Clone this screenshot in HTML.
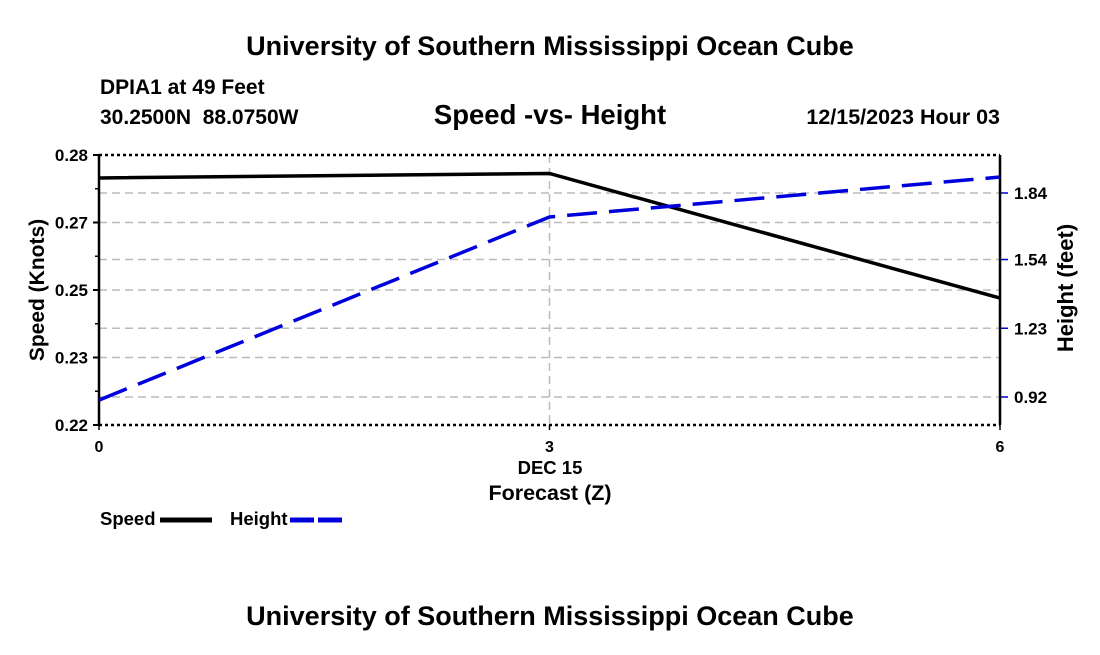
<!DOCTYPE html>
<html><head><meta charset="utf-8"><style>
body{margin:0;background:#fff;}
svg text{font-family:"Liberation Sans",Arial,sans-serif;font-weight:bold;fill:#000;}
</style></head><body>
<svg width="1100" height="650" xmlns="http://www.w3.org/2000/svg">
<text x="550" y="55" font-size="27" text-anchor="middle">University of Southern Mississippi Ocean Cube</text>
<text x="100" y="94" font-size="21">DPIA1 at 49 Feet</text>
<text x="100" y="124" font-size="21">30.2500N&#160;&#160;88.0750W</text>
<text x="550" y="124" font-size="27.5" text-anchor="middle">Speed -vs- Height</text>
<text x="1000" y="124" font-size="21.5" text-anchor="end">12/15/2023 Hour 03</text>
<g id="grid"></g>
<g id="axes"></g>
<g id="series"></g>
<text x="44" y="290" font-size="21" text-anchor="middle" transform="rotate(-90 44 290)">Speed (Knots)</text>
<text x="1073" y="288" font-size="22" text-anchor="middle" transform="rotate(-90 1073 288)">Height (feet)</text>
<text x="550" y="474" font-size="18.5" text-anchor="middle">DEC 15</text>
<text x="550" y="500" font-size="21.5" text-anchor="middle">Forecast (Z)</text>
<g>
<text x="100" y="525" font-size="18.5">Speed</text>
<line x1="160" y1="520" x2="212" y2="520" stroke="#000" stroke-width="5"/>
<text x="230" y="525" font-size="18.5">Height</text>
<line x1="290" y1="520" x2="342" y2="520" stroke="#0000dd" stroke-width="5" stroke-dasharray="24,4"/>
</g>
<text x="550" y="625" font-size="27" text-anchor="middle">University of Southern Mississippi Ocean Cube</text>
</svg>
<script>
const hours=[0,3,6];
const xTickLabels=["0","3","6"];
const speed=[0.2749,0.2759,0.2482];
const height=[0.906,1.732,1.912];
const leftTicks=[0.28,0.265,0.25,0.235,0.22];
const leftTickLabels=["0.28","0.27","0.25","0.23","0.22"];
const rightTicks=[1.84,1.54,1.23,0.92];
const rightTickLabels=["1.84","1.54","1.23","0.92"];
const L=99,R=1000,T=155,B=425;
const xs=h=>L+(h-0)/(6-0)*(R-L);
const ys=v=>B-(v-0.22)/(0.28-0.22)*(B-T);
const yh=v=>397-(v-0.92)/(1.84-0.92)*(397-193);
const NS="http://www.w3.org/2000/svg";
function mk(parent,tag,attrs){const e=document.createElementNS(NS,tag);for(const k in attrs)e.setAttribute(k,attrs[k]);parent.appendChild(e);return e;}
const grid=document.getElementById('grid'),axes=document.getElementById('axes'),series=document.getElementById('series');
leftTicks.forEach((v,i)=>{const y=ys(v);
 if(i>0&&i<leftTicks.length-1){const g=mk(grid,'line',{x1:L,x2:R,y1:y,y2:y,stroke:'#bbb','stroke-width':1.5,'stroke-dasharray':'8,5'});
 
 }
 const t=mk(axes,'line',{x1:L-6,x2:L,y1:y,y2:y,stroke:'#000','stroke-width':2});
 
 
 const tx=mk(axes,'text',{x:L-11,y:y+6,'font-size':17,'text-anchor':'end'});tx.textContent=leftTickLabels[i];
 
 
 if(i<leftTicks.length-1){const m=ys((v+leftTicks[i+1])/2);const mt=mk(axes,'line',{x1:L-4,x2:L,y1:m,y2:m,stroke:'#000','stroke-width':1.5});
 
 }
});
rightTicks.forEach((v,i)=>{const y=yh(v);
 const g=mk(grid,'line',{x1:L,x2:R,y1:y,y2:y,stroke:'#bbb','stroke-width':1.5,'stroke-dasharray':'8,5'});
 
 
 const t=mk(axes,'line',{x1:R,x2:R+8,y1:y,y2:y,stroke:'#0000cc','stroke-width':1.5});
 
 
 const tx=mk(axes,'text',{x:R+14,y:y+6,'font-size':17});tx.textContent=rightTickLabels[i];
 
 
});
hours.forEach((h,i)=>{const x=xs(h);
 if(i>0&&i<hours.length-1){const g=mk(grid,'line',{x1:x,x2:x,y1:T,y2:B,stroke:'#bbb','stroke-width':1.5,'stroke-dasharray':'8,5'});
 
 }
 const t=mk(axes,'line',{x1:x,x2:x,y1:B,y2:B+5,stroke:'#000','stroke-width':1.5});
 
 
 const tx=mk(axes,'text',{x:x,y:B+27,'font-size':16,'text-anchor':'middle'});tx.textContent=xTickLabels[i];
 
 
});
[[T,'top-border'],[B,'bottom-border']].forEach(([y,n])=>{const l=mk(axes,'line',{x1:L,x2:R,y1:y,y2:y,stroke:'#000','stroke-width':2.5,'stroke-dasharray':'3,3'});
 
 });
[[L,'left-axis'],[R,'right-axis']].forEach(([x,n])=>{const l=mk(axes,'line',{x1:x,x2:x,y1:T,y2:B,stroke:'#000','stroke-width':2.5});
 
 });
const sp=mk(series,'polyline',{points:hours.map((h,i)=>xs(h)+','+ys(speed[i])).join(' '),fill:'none',stroke:'#000','stroke-width':3.5});


const hl=mk(series,'polyline',{points:hours.map((h,i)=>xs(h)+','+yh(height[i])).join(' '),fill:'none',stroke:'#0000dd','stroke-width':3.5,'stroke-dasharray':'30,12'});


</script>
</body></html>
